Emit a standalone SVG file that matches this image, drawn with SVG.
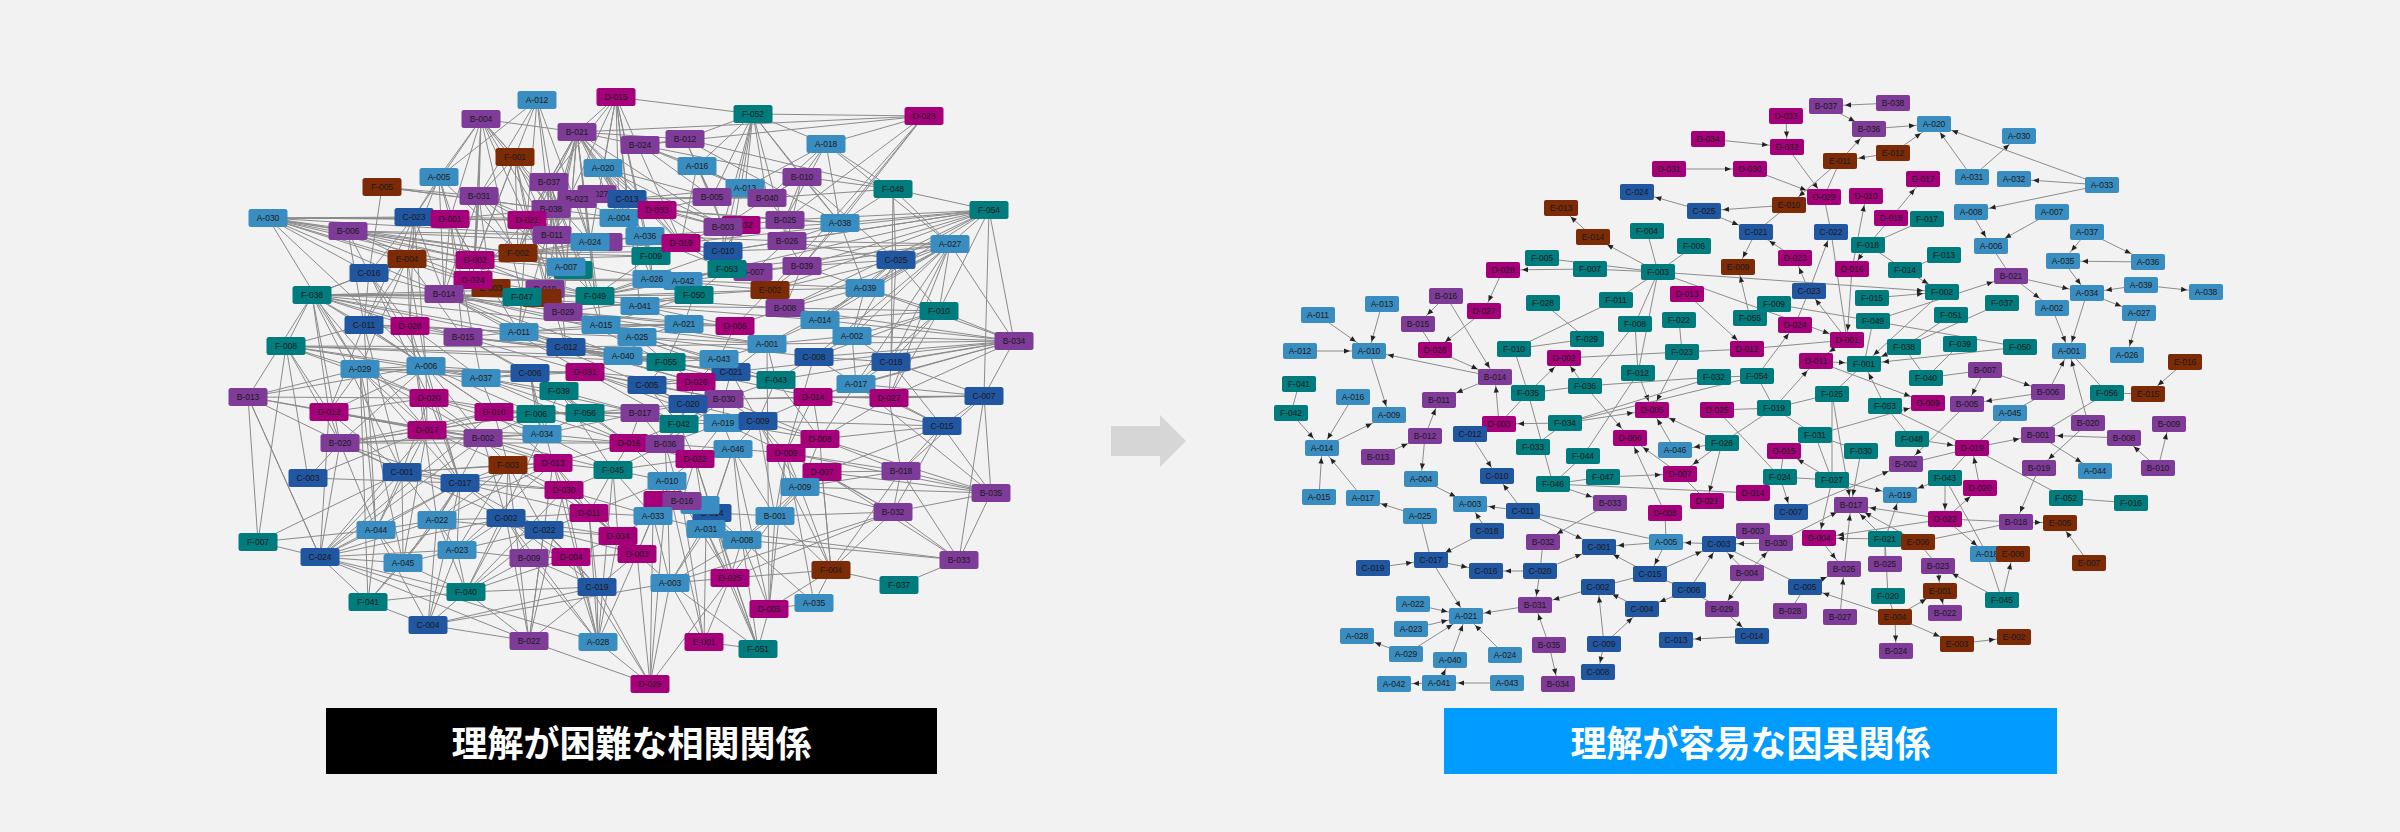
<svg xmlns="http://www.w3.org/2000/svg" xmlns:xlink="http://www.w3.org/1999/xlink" width="2400" height="832" viewBox="0 0 2400 832">
<style>
.A{fill:#3a8dc0}.B{fill:#7e3b97}.C{fill:#2156a1}.D{fill:#a5007a}.E{fill:#7c2b06}.F{fill:#007b7e}
text{fill:#1a1a1a;font-family:"Liberation Sans",Arial,sans-serif;font-size:8.5px;text-anchor:middle;dominant-baseline:central}
.le{fill:none;stroke:#8a8a8a;stroke-width:1}
.re path{fill:none;stroke:#8c8c8c;stroke-width:1}
.re .a{marker-end:url(#ma)}.re .b{marker-end:url(#mb)}.re .c{marker-end:url(#mc)}.re .d{marker-end:url(#md)}.re .e{marker-end:url(#me)}
.ban{fill:#fff;font-family:"Noto Sans CJK JP","Noto Sans CJK SC",sans-serif;font-size:36px;font-weight:700;text-anchor:middle;dominant-baseline:central}
</style>
<defs>
<rect id="lb" x="-19.5" y="-9" width="39" height="18" rx="2.5"/>
<rect id="rb" x="-17" y="-8" width="34" height="16" rx="2"/>
<marker id="ma" markerUnits="userSpaceOnUse" markerWidth="30" markerHeight="30" refX="19" refY="0" orient="auto" overflow="visible"><path d="M0 0L-6 -2.6L-6 2.6Z" fill="#222"/></marker>
<marker id="mb" markerUnits="userSpaceOnUse" markerWidth="30" markerHeight="30" refX="16" refY="0" orient="auto" overflow="visible"><path d="M0 0L-6 -2.6L-6 2.6Z" fill="#222"/></marker>
<marker id="mc" markerUnits="userSpaceOnUse" markerWidth="30" markerHeight="30" refX="13" refY="0" orient="auto" overflow="visible"><path d="M0 0L-6 -2.6L-6 2.6Z" fill="#222"/></marker>
<marker id="md" markerUnits="userSpaceOnUse" markerWidth="30" markerHeight="30" refX="10.5" refY="0" orient="auto" overflow="visible"><path d="M0 0L-6 -2.6L-6 2.6Z" fill="#222"/></marker>
<marker id="me" markerUnits="userSpaceOnUse" markerWidth="30" markerHeight="30" refX="9.5" refY="0" orient="auto" overflow="visible"><path d="M0 0L-6 -2.6L-6 2.6Z" fill="#222"/></marker>
</defs>
<rect x="0" y="0" width="2400" height="832" fill="#f2f2f2"/>

<g id="connectors-left" class="le">
<path d="M537 100L439 177M537 100L479 196M537 100L527 220M537 100L552 235M537 100L475 260M537 100L566 267M537 100L590 242"/>
<path d="M616 97L577 132M616 97L549 182M616 97L753 114M616 97L603 168M616 97L627 199M616 97L619 218M616 97L645 236M616 97L552 235M616 97L651 256M616 97L590 242M616 97L681 243M616 97L640 306"/>
<path d="M481 119L577 132M481 119L439 177M481 119L515 157M481 119L479 196M481 119L450 219M481 119L527 220M481 119L414 217M481 119L551 209M481 119L475 260M481 119L552 235M481 119L590 242M481 119L522 297M481 119L473 280"/>
<path d="M577 132L640 145M577 132L924 116M577 132L685 139M577 132L603 168M577 132L549 182M577 132L619 218M577 132L552 235M577 132L590 242M577 132L651 256M577 132L527 220M577 132L566 267M577 132L545 289M577 132L563 312M577 132L595 296M577 132L601 325M577 132L519 332M577 132L518 253M577 132L657 210M577 132L645 236M577 132L681 243M577 132L723 227"/>
<path d="M515 157L479 196M515 157L527 220M515 157L551 209M515 157L475 260M515 157L518 253M515 157L566 267M515 157L545 289"/>
<path d="M603 168L627 199M603 168L657 210M603 168L619 218M603 168L712 197M603 168L645 236M603 168L651 256M603 168L723 227M603 168L681 243M603 168L652 279"/>
<path d="M439 177L450 219M439 177L414 217M439 177L444 294M439 177L473 280M439 177L407 259M439 177L518 253"/>
<path d="M382 187L551 209M382 187L369 273M382 187L619 218M382 187L479 196"/>
<path d="M549 182L566 267M549 182L595 296M549 182L563 312M549 182L601 325M549 182L527 220M549 182L518 253M549 182L545 289M549 182L566 347"/>
<path d="M479 196L444 294M479 196L475 260M479 196L473 280M479 196L566 267M479 196L552 235M479 196L518 253M479 196L590 242M479 196L491 288"/>
<path d="M414 217L450 219M414 217L407 259M414 217L444 294M414 217L364 325M414 217L410 326M414 217L426 366M414 217L369 273"/>
<path d="M268 218L414 217M268 218L450 219M268 218L527 220M268 218L619 218M268 218L552 235M268 218L348 231M268 218L407 259M268 218L475 260M268 218L518 253M268 218L444 294M268 218L566 267M268 218L369 273M268 218L360 369M268 218L426 366M268 218L595 296M268 218L563 312"/>
<path d="M348 231L518 253M348 231L475 260M348 231L407 259M348 231L369 273M348 231L364 325M348 231L566 267M348 231L552 235M348 231L590 242M348 231L522 297"/>
<path d="M450 219L527 220M450 219L551 209M450 219L475 260M450 219L444 294M450 219L481 378M450 219L519 332M450 219L463 337"/>
<path d="M527 220L619 218M527 220L518 253M527 220L473 280M527 220L519 332M527 220L563 312M527 220L566 347"/>
<path d="M407 259L475 260M407 259L522 297M407 259L364 325M407 259L410 326M407 259L426 366M407 259L360 369M407 259L312 295M407 259L463 337"/>
<path d="M369 273L444 294M369 273L364 325M369 273L312 295M369 273L426 366M369 273L429 398M369 273L410 326"/>
<path d="M312 295L444 294M312 295L522 297M312 295L545 289M312 295L595 296M312 295L640 306M312 295L364 325M312 295L286 346M312 295L360 369M312 295L426 366M312 295L248 397M312 295L329 412M312 295L427 430M312 295L340 443M312 295L402 472M312 295L410 326M312 295L463 337M312 295L519 332M312 295L566 347M312 295L601 325"/>
<path d="M286 346L364 325M286 346L360 369M286 346L426 366M286 346L566 347M286 346L623 356M286 346L666 362M286 346L481 378M286 346L429 398M286 346L258 542M286 346L340 443M286 346L308 478M286 346L329 412"/>
<path d="M248 397L360 369M248 397L426 366M248 397L429 398M248 397L427 430M248 397L483 438M248 397L258 542M248 397L320 557M248 397L402 472"/>
<path d="M360 369L426 366M360 369L481 378M360 369L530 373M360 369L585 372M360 369L429 398M360 369L329 412M360 369L427 430M360 369L483 438M360 369L460 483M360 369L376 530M360 369L403 563M360 369L368 602"/>
<path d="M364 325L410 326M364 325L519 332M364 325L463 337M364 325L426 366M364 325L494 412M364 325L402 472M364 325L376 530M364 325L329 412"/>
<path d="M410 326L463 337M410 326L519 332M410 326L481 378M410 326L427 430M410 326L460 483M410 326L437 520"/>
<path d="M444 294L522 297M444 294L563 312M444 294L519 332M444 294L585 372M444 294L566 347M444 294L601 325M444 294L637 337M444 294L640 306M444 294L623 356"/>
<path d="M475 260L518 253M475 260L566 267M475 260L545 289M475 260L595 296M475 260L645 236M475 260L651 256"/>
<path d="M473 280L522 297M473 280L563 312M473 280L601 325M473 280L640 306M473 280L652 279M473 280L683 281"/>
<path d="M518 253L590 242M518 253L566 267M518 253L651 256M518 253L652 279M518 253L681 243M518 253L723 251"/>
<path d="M463 337L519 332M463 337L530 373M463 337L566 347M463 337L623 356M463 337L666 362M463 337L585 372M463 337L559 391"/>
<path d="M519 332L601 325M519 332L637 337M519 332L684 324M519 332L666 362M519 332L647 385M519 332L696 382"/>
<path d="M426 366L481 378M426 366L530 373M426 366L494 412M426 366L427 430M426 366L483 438M426 366L536 414M426 366L460 483"/>
<path d="M481 378L530 373M481 378L585 372M481 378L559 391M481 378L640 413M481 378L629 443M481 378L494 412M481 378L585 413"/>
<path d="M429 398L494 412M429 398L536 414M429 398L483 438M429 398L460 483M429 398L402 472M429 398L542 434"/>
<path d="M563 312L684 324M563 312L694 295M563 312L735 326M563 312L767 344M563 312L731 372M563 312L776 380M563 312L666 362"/>
<path d="M566 347L623 356M566 347L666 362M566 347L719 359M566 347L731 372M566 347L696 382M566 347L767 344M566 347L776 380"/>
<path d="M601 325L684 324M601 325L637 337M601 325L694 295M601 325L767 344M601 325L735 326"/>
<path d="M595 296L652 279M595 296L683 281M595 296L694 295M595 296L770 290M595 296L785 308M595 296L727 269M595 296L723 251"/>
<path d="M640 306L694 295M640 306L684 324M640 306L735 326M640 306L785 308M640 306L820 320"/>
<path d="M637 337L684 324M637 337L666 362M637 337L719 359M637 337L767 344M637 337L814 357"/>
<path d="M623 356L666 362M623 356L719 359M623 356L731 372M623 356L776 380M623 356L813 397"/>
<path d="M585 372L647 385M585 372L696 382M585 372L724 399M585 372L688 404M585 372L679 424M585 372L723 423"/>
<path d="M559 391L585 413M559 391L640 413M559 391L629 443M559 391L542 434M559 391L613 470"/>
<path d="M530 373L559 391M530 373L585 372M530 373L536 414M530 373L585 413M530 373L542 434M530 373L553 463"/>
<path d="M652 279L683 281M652 279L694 295M652 279L770 290M652 279L865 288M652 279L802 266"/>
<path d="M645 236L681 243M645 236L723 251M645 236L727 269M645 236L787 241M645 236L840 223M645 236L651 256M645 236L652 279"/>
<path d="M627 199L657 210M627 199L712 197M627 199L723 227M627 199L741 225M627 199L767 198M627 199L745 188M627 199L619 218M627 199L577 199"/>
<path d="M657 210L723 227M657 210L723 251M657 210L785 220M657 210L840 223"/>
<path d="M640 145L685 139M640 145L697 166M640 145L712 197M640 145L745 188M640 145L802 177M640 145L924 116"/>
<path d="M753 114L924 116M753 114L826 144M753 114L802 177M753 114L697 166M753 114L712 197M753 114L745 188M753 114L767 198M753 114L723 227M753 114L723 251M753 114L727 269M753 114L685 139M753 114L840 223M753 114L787 241"/>
<path d="M924 116L826 144M924 116L785 220M924 116L840 223M924 116L770 290M924 116L802 266"/>
<path d="M826 144L802 177M826 144L767 198M826 144L745 188M826 144L785 220M826 144L840 223M826 144L893 189M826 144L950 244"/>
<path d="M685 139L697 166M685 139L893 189M685 139L712 197M685 139L840 223"/>
<path d="M697 166L712 197M697 166L723 227M697 166L745 188M697 166L681 243"/>
<path d="M802 177L893 189M802 177L767 198M802 177L785 220M802 177L840 223M802 177L787 241M802 177L896 260"/>
<path d="M893 189L989 210M893 189L896 260M893 189L891 362M893 189L950 244M893 189L840 223M893 189L767 198"/>
<path d="M989 210L950 244M989 210L840 223M989 210L785 220M989 210L787 241M989 210L896 260M989 210L802 266M989 210L939 311M989 210L1014 341M989 210L984 396M989 210L865 288M989 210L785 308M989 210L723 251M989 210L727 269M989 210L681 243M989 210L770 290"/>
<path d="M950 244L896 260M950 244L865 288M950 244L939 311M950 244L1014 341M950 244L891 362M950 244L785 308M950 244L820 320M950 244L852 336M950 244L814 357M950 244L856 384M950 244L889 398M950 244L767 344M950 244L787 241M950 244L802 266M950 244L723 251M950 244L727 269"/>
<path d="M896 260L802 266M896 260L865 288M896 260L787 241M896 260L770 290M896 260L820 320M896 260L852 336M896 260L891 362M896 260L939 311"/>
<path d="M1014 341L939 311M1014 341L852 336M1014 341L891 362M1014 341L984 396M1014 341L820 320M1014 341L865 288M1014 341L767 344M1014 341L814 357M1014 341L785 308M1014 341L889 398M1014 341L813 397M1014 341L856 384M1014 341L776 380M1014 341L731 372"/>
<path d="M939 311L865 288M939 311L820 320M939 311L852 336M939 311L891 362M939 311L856 384M939 311L889 398M939 311L785 308M939 311L814 357"/>
<path d="M984 396L891 362M984 396L889 398M984 396L856 384M984 396L813 397M984 396L991 493M984 396L901 471M984 396L942 426M984 396L959 560M984 396L724 399"/>
<path d="M889 398L813 397M889 398L856 384M889 398L891 362M889 398L942 426M889 398L901 471M889 398L820 439"/>
<path d="M942 426L901 471M942 426L820 439M942 426L893 512M942 426L822 472"/>
<path d="M991 493L901 471M991 493L893 512M991 493L800 487M991 493L822 472M991 493L820 439M991 493L942 426M991 493L959 560M991 493L786 453M991 493L856 384"/>
<path d="M901 471L893 512M901 471L959 560M901 471L822 472M901 471L800 487M901 471L831 570"/>
<path d="M893 512L959 560M893 512L831 570M893 512L800 487M893 512L775 516M893 512L730 578M893 512L670 583"/>
<path d="M959 560L899 585M959 560L742 540M959 560L822 472M959 560L706 529M899 585L831 570"/>
<path d="M831 570L814 603M831 570L769 609M831 570L730 578M831 570L800 487M831 570L822 472M831 570L775 516M831 570L758 421"/>
<path d="M814 603L769 609M814 603L742 540M814 603L786 453"/>
<path d="M769 609L758 649M769 609L742 540M769 609L733 449M769 609L786 453M769 609L767 344"/>
<path d="M758 649L704 642M758 649L730 578M758 649L742 540M758 649L670 583M758 649L706 529M758 649L695 459M758 649L712 513"/>
<path d="M704 642L670 583M704 642L667 481M704 642L682 501M704 642L730 578"/>
<path d="M650 684L670 583M650 684L637 554M650 684L598 642M650 684L653 516M650 684L597 587M650 684L571 557M650 684L529 641M650 684L730 578M650 684L667 481"/>
<path d="M598 642L597 587M598 642L571 557M598 642L589 513M598 642L618 536M598 642L564 490M598 642L529 558M598 642L506 518M598 642L553 463M598 642L613 470M598 642L320 557M598 642L637 554"/>
<path d="M529 641L506 518M529 641L544 530M529 641L553 463M529 641L508 465M529 641L564 490M529 641L466 592M529 641L597 587"/>
<path d="M428 625L466 592M428 625L457 550M428 625L437 520M428 625L460 483M428 625L376 530M428 625L368 602M428 625L529 641M428 625L597 587M428 625L670 583"/>
<path d="M320 557L376 530M320 557L403 563M320 557L402 472M320 557L460 483M320 557L437 520M320 557L340 443M320 557L427 430M320 557L368 602M320 557L466 592M320 557L529 641M320 557L329 412M320 557L248 397M320 557L258 542M320 557L457 550M320 557L494 412M320 557L506 518M320 557L483 438"/>
<path d="M368 602L376 530M368 602L403 563M368 602L466 592M368 602L437 520"/>
<path d="M466 592L457 550M466 592L403 563M466 592L506 518M466 592L529 558M466 592L597 587M466 592L571 557M466 592L544 530M466 592L437 520M466 592L564 490M466 592L542 434"/>
<path d="M403 563L457 550M403 563L402 472M403 563L460 483M403 563L376 530M403 563L437 520M403 563L427 430"/>
<path d="M376 530L402 472M376 530L437 520M376 530L460 483M376 530L427 430M376 530L340 443"/>
<path d="M457 550L506 518M457 550L529 558M457 550L553 463M457 550L544 530M457 550L508 465M457 550L437 520M457 550L460 483"/>
<path d="M437 520L460 483M437 520L506 518M437 520L544 530M437 520L508 465M437 520L553 463M437 520L483 438"/>
<path d="M308 478L340 443M308 478L427 430M308 478L460 483M258 542L402 472M258 542L376 530"/>
<path d="M340 443L427 430M340 443L483 438M340 443L494 412M340 443L402 472M340 443L460 483M340 443L542 434M340 443L629 443M340 443L536 414M340 443L329 412M340 443L426 366"/>
<path d="M329 412L427 430M329 412L429 398M329 412L402 472M329 412L483 438M329 412L426 366"/>
<path d="M427 430L483 438M427 430L494 412M427 430L536 414M427 430L542 434M427 430L460 483M427 430L508 465M427 430L553 463"/>
<path d="M483 438L508 465M483 438L553 463M483 438L542 434M483 438L536 414M483 438L629 443M483 438L613 470M483 438L506 518"/>
<path d="M402 472L460 483M402 472L508 465M402 472L437 520M402 472L564 490M402 472L506 518M402 472L553 463"/>
<path d="M460 483L508 465M460 483L506 518M460 483L553 463M460 483L564 490M460 483L544 530M460 483L589 513"/>
<path d="M494 412L536 414M494 412L542 434M494 412L553 463M494 412L585 413M494 412L640 413M494 412L508 465"/>
<path d="M508 465L553 463M508 465L564 490M508 465L544 530M508 465L589 513M508 465L506 518"/>
<path d="M506 518L544 530M506 518L571 557M506 518L529 558M506 518L618 536M506 518L589 513M506 518L597 587"/>
<path d="M544 530L571 557M544 530L637 554M544 530L618 536M544 530L589 513M544 530L597 587"/>
<path d="M553 463L613 470M553 463L564 490M553 463L629 443M553 463L589 513M553 463L618 536"/>
<path d="M564 490L589 513M564 490L613 470M564 490L618 536M564 490L637 554M564 490L653 516"/>
<path d="M589 513L618 536M589 513L637 554M589 513L613 470M589 513L653 516M589 513L597 587M589 513L667 481"/>
<path d="M529 558L571 557M529 558L597 587M529 558L637 554M571 557L637 554M571 557L597 587M571 557L618 536"/>
<path d="M613 470L629 443M613 470L618 536M613 470L667 481M613 470L665 444M613 470L695 459M613 470L653 516"/>
<path d="M536 414L585 413M536 414L542 434M536 414L640 413M536 414L629 443"/>
<path d="M585 413L640 413M585 413L629 443M585 413L542 434M585 413L679 424M585 413L688 404"/>
<path d="M542 434L629 443M542 434L613 470M542 434L640 413"/>
<path d="M640 413L629 443M640 413L688 404M640 413L679 424M640 413L665 444M640 413L723 423"/>
<path d="M629 443L665 444M629 443L695 459M629 443L667 481M629 443L679 424"/>
<path d="M647 385L688 404M647 385L724 399M647 385L696 382M647 385L723 423M647 385L679 424"/>
<path d="M665 444L695 459M665 444L733 449M665 444L667 481M665 444L682 501M665 444L723 423"/>
<path d="M695 459L733 449M695 459L667 481M695 459L682 501M695 459L712 513M695 459L706 529"/>
<path d="M723 423L758 421M723 423L733 449M723 423L786 453M723 423L820 439M723 423L695 459"/>
<path d="M758 421L733 449M758 421L786 453M758 421L820 439M758 421L942 426M758 421L800 487M758 421L775 516"/>
<path d="M733 449L786 453M733 449L712 513M733 449L775 516M733 449L742 540M733 449L706 529"/>
<path d="M820 439L786 453M820 439L822 472M820 439L901 471M820 439L800 487"/>
<path d="M786 453L822 472M786 453L800 487M786 453L775 516M786 453L901 471M786 453L893 512"/>
<path d="M822 472L800 487M822 472L893 512M822 472L775 516M822 472L831 570"/>
<path d="M800 487L775 516M800 487L742 540"/>
<path d="M667 481L682 501M667 481L653 516M667 481L712 513M667 481L706 529M667 481L670 583M667 481L637 554"/>
<path d="M682 501L712 513M682 501L653 516M682 501L706 529M682 501L742 540M682 501L730 578"/>
<path d="M653 516L706 529M653 516L670 583M653 516L637 554"/>
<path d="M712 513L706 529M712 513L742 540M712 513L775 516M712 513L730 578M712 513L670 583"/>
<path d="M775 516L742 540M775 516L730 578M775 516L769 609"/>
<path d="M706 529L742 540M706 529L670 583M706 529L730 578M706 529L704 642"/>
<path d="M742 540L730 578M742 540L670 583M670 583L730 578M637 554L670 583M637 554L597 587M618 536L637 554M618 536L653 516"/>
<path d="M724 399L679 424M724 399L723 423M724 399L758 421M724 399L820 439M724 399L813 397M724 399L665 444M724 399L688 404"/>
<path d="M688 404L679 424M688 404L723 423M688 404L665 444M688 404L758 421M679 424L723 423M679 424L665 444M679 424L695 459"/>
<path d="M813 397L889 398M813 397L758 421M813 397L820 439M813 397L786 453M813 397L942 426M813 397L856 384"/>
<path d="M856 384L891 362M856 384L814 357M856 384L820 439M856 384L942 426"/>
<path d="M814 357L891 362M814 357L852 336M814 357L776 380M814 357L786 453"/>
<path d="M891 362L942 426M776 380L813 397M776 380L767 344M776 380L731 372M776 380L758 421M776 380L724 399M776 380L820 439"/>
<path d="M731 372L696 382M731 372L719 359M731 372L767 344M731 372L647 385M731 372L724 399M731 372L758 421"/>
<path d="M696 382L719 359M696 382L647 385M696 382L688 404M696 382L724 399"/>
<path d="M719 359L767 344M719 359L666 362M719 359L735 326M666 362L684 324M666 362L647 385M666 362L696 382"/>
<path d="M767 344L735 326M767 344L820 320M767 344L852 336M852 336L820 320M852 336L865 288M852 336L891 362M852 336L856 384"/>
<path d="M820 320L785 308M820 320L865 288M735 326L684 324M735 326L785 308M735 326L770 290M684 324L694 295"/>
<path d="M785 308L770 290M785 308L865 288M785 308L802 266M770 290L802 266M770 290L753 272M770 290L727 269M770 290L865 288"/>
<path d="M865 288L802 266M865 288L840 223M694 295L683 281M694 295L770 290M694 295L727 269M683 281L727 269M683 281L753 272"/>
<path d="M802 266L787 241M802 266L753 272M802 266L840 223M787 241L785 220M787 241L840 223M787 241L753 272M787 241L723 251"/>
<path d="M753 272L727 269M753 272L723 251M727 269L723 251M727 269L681 243M723 251L681 243M723 251L723 227M723 251L741 225"/>
<path d="M681 243L723 227M681 243L657 210M681 243L651 256M723 227L767 198M723 227L712 197M723 227L741 225"/>
<path d="M785 220L767 198M785 220L840 223M785 220L723 227M767 198L745 188M767 198L712 197M767 198L802 177M745 188L712 197M745 188L697 166M712 197L697 166M712 197L657 210"/>
<path d="M651 256L652 279M651 256L645 236M651 256L595 296M619 218L645 236M619 218L657 210"/>
<path d="M590 242L566 267M590 242L645 236M590 242L552 235M590 242L595 296M566 267L545 289M566 267L595 296M566 267L522 297"/>
<path d="M552 235L566 267M552 235L551 209M552 235L518 253M577 199L551 209M577 199L619 218M577 199L590 242M577 199L552 235"/>
<path d="M545 289L563 312M545 289L595 296M522 297L563 312M522 297L519 332M522 297L595 296M491 288L473 280M491 288L522 297M491 288L563 312"/>
</g>

<g id="connectors-right" class="re">
<path class="a" d="M1669 169L1750 169"/><path class="a" d="M1708 139L1787 147"/><path class="a" d="M1704 211L1637 192"/><path class="a" d="M1789 205L1704 211"/><path class="a" d="M1704 211L1756 232"/>
<path class="c" d="M1593 237L1561 208"/><path class="b" d="M1658 272L1593 237"/><path d="M1647 231L1658 272"/><path d="M1694 246L1658 272"/><path d="M1542 258L1658 272"/><path d="M1590 269L1658 272"/>
<path class="a" d="M1590 269L1503 270"/><path class="a" d="M1658 272L1942 292"/><path class="a" d="M1658 272L1847 340"/><path d="M1658 272L1616 300"/><path d="M1658 272L1635 324"/><path d="M1658 272L1638 373"/>
<path class="c" d="M1687 294L1747 349"/><path class="e" d="M1750 318L1738 267"/><path class="d" d="M1756 232L1738 267"/><path class="d" d="M1503 270L1484 311"/><path class="c" d="M1484 311L1435 350"/>
<path class="c" d="M1446 296L1418 324"/><path class="d" d="M1446 296L1495 377"/><path class="a" d="M1435 350L1495 377"/><path d="M1418 324L1435 350"/><path class="e" d="M1382 304L1369 351"/>
<path class="b" d="M1318 315L1369 351"/><path class="a" d="M1300 351L1369 351"/><path class="a" d="M1495 377L1369 351"/><path class="e" d="M1369 351L1389 415"/><path class="a" d="M1495 377L1439 400"/><path class="e" d="M1499 424L1495 377"/>
<path d="M1543 303L1587 339"/><path d="M1616 300L1514 349"/><path d="M1587 339L1514 349"/><path d="M1514 349L1528 393"/><path class="c" d="M1528 393L1564 358"/><path class="d" d="M1585 386L1564 358"/>
<path d="M1528 393L1585 386"/><path d="M1635 324L1585 386"/><path d="M1635 324L1638 373"/><path class="e" d="M1638 373L1652 410"/><path class="d" d="M1682 352L1652 410"/><path d="M1679 320L1682 352"/>
<path d="M1564 358L1682 352"/><path d="M1682 352L1747 349"/><path d="M1585 386L1714 377"/><path d="M1714 377L1757 376"/><path d="M1714 377L1565 423"/><path class="c" d="M1585 386L1630 438"/><path d="M1299 384L1291 413"/>
<path class="a" d="M1893 103L1826 106"/><path class="e" d="M1786 116L1787 147"/><path class="b" d="M1826 106L1869 129"/><path class="a" d="M1869 129L1934 124"/><path class="b" d="M1893 153L1934 124"/><path class="a" d="M1893 153L1840 161"/>
<path class="c" d="M1840 161L1869 129"/><path class="d" d="M1972 177L1934 124"/><path class="c" d="M1972 177L2019 136"/><path class="a" d="M2102 185L1934 124"/><path class="a" d="M2102 185L2014 179"/><path class="a" d="M2102 185L1971 212"/>
<path class="d" d="M1787 147L1824 197"/><path class="a" d="M1750 169L1824 197"/><path class="c" d="M1840 161L1789 205"/><path d="M1840 161L1824 197"/><path d="M1789 205L1756 232"/><path d="M1824 197L1831 232"/>
<path class="c" d="M1891 218L1923 179"/><path class="e" d="M1852 269L1866 196"/><path d="M1891 218L1868 245"/><path d="M1927 219L1868 245"/><path class="d" d="M1868 245L1852 269"/><path d="M1868 245L1905 270"/><path d="M1944 255L1905 270"/>
<path class="b" d="M1905 270L1942 292"/><path class="a" d="M1872 298L1942 292"/><path class="b" d="M1795 258L1756 232"/><path class="d" d="M1809 291L1795 258"/><path class="e" d="M1809 291L1831 232"/><path d="M1831 232L1847 340"/>
<path class="d" d="M1847 340L1809 291"/><path class="e" d="M1852 269L1847 340"/><path d="M1795 325L1809 291"/><path class="d" d="M1757 376L1795 325"/><path class="b" d="M1847 340L1816 361"/><path d="M1747 349L1847 340"/>
<path class="a" d="M1816 361L1864 364"/><path d="M1774 304L1873 321"/><path class="a" d="M1873 321L2011 276"/><path d="M1873 321L1864 364"/><path class="a" d="M1904 347L1864 364"/><path class="c" d="M1942 292L1864 364"/>
<path d="M1951 315L1904 347"/><path d="M2002 303L1904 347"/><path class="a" d="M2020 347L1864 364"/><path d="M1960 344L1926 378"/><path d="M1904 347L1926 378"/><path d="M1926 378L1985 370"/><path d="M1873 321L2020 347"/>
<path class="a" d="M2011 276L2087 293"/><path class="b" d="M2011 276L2052 308"/><path d="M1991 246L2011 276"/><path class="d" d="M1971 212L1991 246"/><path class="b" d="M2052 212L1991 246"/><path class="c" d="M2087 232L2063 261"/>
<path class="a" d="M2087 232L2148 262"/><path class="a" d="M2148 262L2063 261"/><path class="d" d="M2063 261L2087 293"/><path class="a" d="M2141 285L2087 293"/><path class="a" d="M2141 285L2206 292"/><path class="a" d="M2087 293L2139 313"/>
<path class="e" d="M2139 313L2127 355"/><path class="e" d="M2087 293L2069 351"/><path class="e" d="M2052 308L2069 351"/><path d="M2107 393L2069 351"/><path class="d" d="M2048 392L2069 351"/><path class="e" d="M2088 423L2069 351"/>
<path class="c" d="M2185 362L2148 394"/><path d="M2107 393L2148 394"/><path class="a" d="M1985 370L2048 392"/><path class="d" d="M1985 370L1967 404"/><path class="a" d="M2048 392L1967 404"/><path class="a" d="M1816 361L1928 403"/>
<path d="M1832 394L1864 364"/><path class="c" d="M1774 408L1816 361"/><path d="M1757 376L1774 408"/><path class="d" d="M1885 406L1864 364"/>
<path class="d" d="M1353 397L1322 448"/><path class="c" d="M1291 413L1322 448"/><path class="a" d="M1322 448L1389 415"/><path class="e" d="M1319 497L1322 448"/><path class="c" d="M1363 498L1322 448"/><path class="a" d="M1378 457L1425 436"/>
<path class="e" d="M1425 436L1439 400"/><path class="e" d="M1425 436L1421 479"/><path class="b" d="M1421 479L1470 504"/><path class="d" d="M1470 434L1497 476"/><path class="d" d="M1523 511L1497 476"/><path class="a" d="M1523 511L1470 504"/>
<path class="d" d="M1487 531L1470 504"/><path class="a" d="M1420 516L1363 498"/><path d="M1420 516L1431 560"/><path class="b" d="M1487 531L1431 560"/><path class="a" d="M1373 568L1431 560"/><path class="a" d="M1431 560L1486 571"/>
<path class="a" d="M1540 571L1486 571"/><path class="d" d="M1431 560L1466 616"/><path class="a" d="M1413 604L1466 616"/><path class="a" d="M1411 629L1466 616"/><path class="b" d="M1406 654L1466 616"/><path class="e" d="M1450 660L1466 616"/>
<path class="c" d="M1505 655L1466 616"/><path class="a" d="M1406 654L1357 636"/><path class="d" d="M1439 683L1450 660"/><path class="a" d="M1439 683L1394 684"/><path class="a" d="M1507 683L1439 683"/><path class="a" d="M1535 605L1466 616"/>
<path d="M1543 542L1540 571"/><path class="e" d="M1540 571L1535 605"/><path class="a" d="M1540 571L1599 547"/><path class="e" d="M1549 645L1535 605"/><path class="e" d="M1549 645L1558 684"/><path class="a" d="M1598 587L1535 605"/>
<path class="e" d="M1604 644L1598 587"/><path class="c" d="M1604 644L1642 609"/><path class="e" d="M1604 644L1598 672"/><path class="b" d="M1642 609L1598 587"/><path class="a" d="M1689 590L1642 609"/><path d="M1650 574L1598 587"/>
<path class="b" d="M1650 574L1599 547"/><path class="a" d="M1666 542L1599 547"/><path class="d" d="M1666 542L1650 574"/><path class="a" d="M1719 544L1666 542"/><path class="a" d="M1523 511L1599 547"/><path d="M1523 511L1666 542"/>
<path class="b" d="M1610 503L1543 542"/><path class="a" d="M1553 484L1610 503"/><path d="M1583 456L1553 484"/><path d="M1553 484L1603 477"/><path class="a" d="M1603 477L1680 474"/><path d="M1553 484L1753 493"/>
<path class="b" d="M1680 474L1630 438"/><path class="d" d="M1665 513L1630 438"/><path d="M1665 513L1666 542"/><path class="d" d="M1675 450L1652 410"/><path class="a" d="M1722 443L1652 410"/><path class="a" d="M1722 443L1675 450"/>
<path class="b" d="M1722 443L1680 474"/><path class="e" d="M1722 443L1707 501"/><path d="M1680 474L1707 501"/><path class="a" d="M1565 423L1499 424"/><path class="a" d="M1565 423L1652 410"/><path d="M1528 393L1499 424"/>
<path d="M1528 393L1553 484"/><path d="M1533 447L1565 423"/><path d="M1583 456L1638 373"/><path d="M1565 423L1757 376"/><path class="d" d="M1689 590L1719 544"/><path d="M1689 590L1650 574"/><path d="M1689 590L1722 609"/>
<path class="c" d="M1722 609L1752 636"/><path class="a" d="M1752 636L1676 640"/><path class="d" d="M1747 573L1722 609"/><path class="a" d="M1650 574L1719 544"/><path class="a" d="M1753 531L1719 544"/><path class="a" d="M1776 543L1719 544"/><path class="c" d="M1747 573L1719 544"/>
<path d="M1832 394L1774 408"/><path d="M1832 394L1832 480"/><path class="e" d="M1832 394L1851 505"/><path d="M1885 406L1912 439"/><path class="c" d="M1967 404L1906 464"/><path d="M2048 392L2010 413"/><path d="M2010 413L1972 448"/>
<path d="M2107 393L2038 435"/><path class="c" d="M2088 423L2039 468"/><path class="a" d="M2124 438L2038 435"/><path class="b" d="M2038 435L2095 471"/><path class="a" d="M1972 448L2038 435"/><path class="a" d="M1912 439L1972 448"/><path d="M1885 406L1972 448"/>
<path class="a" d="M1815 435L1928 403"/><path d="M1815 435L1861 451"/><path d="M1815 435L1832 480"/><path class="b" d="M1832 480L1784 451"/><path d="M1774 408L1815 435"/><path d="M1780 477L1784 451"/><path d="M1780 477L1832 480"/>
<path class="e" d="M1780 477L1791 512"/><path class="b" d="M1780 477L1753 493"/><path class="e" d="M1861 451L1851 505"/><path class="a" d="M1832 480L1900 495"/><path class="e" d="M1832 480L1819 538"/><path class="a" d="M1791 512L1906 464"/>
<path d="M1972 448L1906 464"/><path d="M1972 448L1945 478"/><path class="a" d="M1945 478L1900 495"/><path class="e" d="M1945 478L1945 519"/><path class="e" d="M1980 488L1972 448"/><path class="c" d="M1945 519L1980 488"/><path d="M1972 448L2066 498"/>
<path d="M2066 498L2131 503"/><path class="d" d="M2039 468L2016 522"/><path class="a" d="M2016 522L2060 523"/><path class="d" d="M2089 563L2060 523"/><path class="c" d="M2158 468L2124 438"/><path class="e" d="M2158 468L2169 424"/>
<path class="a" d="M1945 519L1851 505"/><path class="e" d="M1885 539L1900 495"/><path class="c" d="M1885 539L1851 505"/><path d="M2016 522L1945 519"/><path class="a" d="M1945 519L1819 538"/><path d="M2016 522L1918 542"/><path class="a" d="M1885 539L1819 538"/>
<path class="b" d="M1918 542L1851 505"/><path class="c" d="M1945 519L1987 554"/><path d="M1945 478L1987 554"/><path class="b" d="M1776 543L1851 505"/><path class="c" d="M1819 538L1844 569"/><path class="e" d="M1844 569L1851 505"/><path class="e" d="M1840 617L1844 569"/>
<path class="a" d="M1805 587L1844 569"/><path d="M1790 611L1805 587"/><path class="a" d="M1895 617L1805 587"/><path class="b" d="M1895 617L1940 591"/><path class="e" d="M1895 617L1896 651"/><path class="a" d="M1895 617L1957 644"/><path class="a" d="M1957 644L2014 637"/>
<path d="M1888 596L1895 617"/><path d="M1885 539L1888 596"/><path d="M1885 539L1885 564"/><path d="M1918 542L1938 566"/><path class="e" d="M1938 566L1940 591"/><path class="e" d="M1940 591L1945 613"/><path class="b" d="M2002 600L1938 566"/>
<path class="e" d="M2002 600L2013 554"/><path d="M2002 600L1987 554"/><path d="M1776 543L1753 531"/><path class="c" d="M1747 573L1776 543"/><path d="M1805 587L1719 544"/><path d="M1717 410L1780 477"/><path d="M1717 410L1774 408"/><path d="M1722 443L1774 408"/>
</g>

<g id="nodes-left">
<g id="l-B-027" class="B" transform="translate(597 194)"><use href="#lb"/><text>B-027</text></g>
<g id="l-A-012" class="A" transform="translate(537 100)"><use href="#lb"/><text>A-012</text></g>
<g id="l-D-015" class="D" transform="translate(616 97)"><use href="#lb"/><text>D-015</text></g>
<g id="l-B-004" class="B" transform="translate(481 119)"><use href="#lb"/><text>B-004</text></g>
<g id="l-B-021" class="B" transform="translate(577 132)"><use href="#lb"/><text>B-021</text></g>
<g id="l-B-024" class="B" transform="translate(640 145)"><use href="#lb"/><text>B-024</text></g>
<g id="l-F-001" class="E" transform="translate(515 157)"><use href="#lb"/><text>F-001</text></g>
<g id="l-A-020" class="A" transform="translate(603 168)"><use href="#lb"/><text>A-020</text></g>
<g id="l-A-005" class="A" transform="translate(439 177)"><use href="#lb"/><text>A-005</text></g>
<g id="l-F-005" class="E" transform="translate(382 187)"><use href="#lb"/><text>F-005</text></g>
<g id="l-B-037" class="B" transform="translate(549 182)"><use href="#lb"/><text>B-037</text></g>
<g id="l-B-031" class="B" transform="translate(479 196)"><use href="#lb"/><text>B-031</text></g>
<g id="l-B-023" class="B" transform="translate(577 199)"><use href="#lb"/><text>B-023</text></g>
<g id="l-C-013" class="C" transform="translate(627 199)"><use href="#lb"/><text>C-013</text></g>
<g id="l-A-030" class="A" transform="translate(268 218)"><use href="#lb"/><text>A-030</text></g>
<g id="l-C-023" class="C" transform="translate(414 217)"><use href="#lb"/><text>C-023</text></g>
<g id="l-D-001" class="D" transform="translate(450 219)"><use href="#lb"/><text>D-001</text></g>
<g id="l-B-038" class="B" transform="translate(551 209)"><use href="#lb"/><text>B-038</text></g>
<g id="l-D-021" class="D" transform="translate(527 220)"><use href="#lb"/><text>D-021</text></g>
<g id="l-A-004" class="A" transform="translate(619 218)"><use href="#lb"/><text>A-004</text></g>
<g id="l-D-033" class="D" transform="translate(657 210)"><use href="#lb"/><text>D-033</text></g>
<g id="l-B-006" class="B" transform="translate(348 231)"><use href="#lb"/><text>B-006</text></g>
<g id="l-B-011" class="B" transform="translate(552 235)"><use href="#lb"/><text>B-011</text></g>
<g id="l-B-hidden" class="B" transform="translate(603 242)"><use href="#lb"/></g>
<g id="l-A-024" class="A" transform="translate(590 242)"><use href="#lb"/><text>A-024</text></g>
<g id="l-A-036" class="A" transform="translate(645 236)"><use href="#lb"/><text>A-036</text></g>
<g id="l-E-004" class="E" transform="translate(407 259)"><use href="#lb"/><text>E-004</text></g>
<g id="l-D-002" class="D" transform="translate(475 260)"><use href="#lb"/><text>D-002</text></g>
<g id="l-F-002" class="E" transform="translate(518 253)"><use href="#lb"/><text>F-002</text></g>
<g id="l-F-009" class="F" transform="translate(651 256)"><use href="#lb"/><text>F-009</text></g>
<g id="l-C-016" class="C" transform="translate(369 273)"><use href="#lb"/><text>C-016</text></g>
<g id="l-F-hidden" class="F" transform="translate(573 270)"><use href="#lb"/></g>
<g id="l-A-007" class="A" transform="translate(566 267)"><use href="#lb"/><text>A-007</text></g>
<g id="l-E-003" class="E" transform="translate(491 288)"><use href="#lb"/><text>E-003</text></g>
<g id="l-D-024" class="D" transform="translate(473 280)"><use href="#lb"/><text>D-024</text></g>
<g id="l-B-019" class="B" transform="translate(545 289)"><use href="#lb"/><text>B-019</text></g>
<g id="l-E-hidden" class="E" transform="translate(542 298)"><use href="#lb"/></g>
<g id="l-F-047" class="F" transform="translate(522 297)"><use href="#lb"/><text>F-047</text></g>
<g id="l-B-014" class="B" transform="translate(444 294)"><use href="#lb"/><text>B-014</text></g>
<g id="l-F-038" class="F" transform="translate(312 295)"><use href="#lb"/><text>F-038</text></g>
<g id="l-F-049" class="F" transform="translate(595 296)"><use href="#lb"/><text>F-049</text></g>
<g id="l-A-041" class="A" transform="translate(640 306)"><use href="#lb"/><text>A-041</text></g>
<g id="l-B-029" class="B" transform="translate(563 312)"><use href="#lb"/><text>B-029</text></g>
<g id="l-C-011" class="C" transform="translate(364 325)"><use href="#lb"/><text>C-011</text></g>
<g id="l-D-028" class="D" transform="translate(410 326)"><use href="#lb"/><text>D-028</text></g>
<g id="l-B-015" class="B" transform="translate(463 337)"><use href="#lb"/><text>B-015</text></g>
<g id="l-A-011" class="A" transform="translate(519 332)"><use href="#lb"/><text>A-011</text></g>
<g id="l-A-015" class="A" transform="translate(601 325)"><use href="#lb"/><text>A-015</text></g>
<g id="l-A-025" class="A" transform="translate(637 337)"><use href="#lb"/><text>A-025</text></g>
<g id="l-F-008" class="F" transform="translate(286 346)"><use href="#lb"/><text>F-008</text></g>
<g id="l-C-012" class="C" transform="translate(566 347)"><use href="#lb"/><text>C-012</text></g>
<g id="l-A-040" class="A" transform="translate(623 356)"><use href="#lb"/><text>A-040</text></g>
<g id="l-A-029" class="A" transform="translate(360 369)"><use href="#lb"/><text>A-029</text></g>
<g id="l-A-006" class="A" transform="translate(426 366)"><use href="#lb"/><text>A-006</text></g>
<g id="l-A-037" class="A" transform="translate(481 378)"><use href="#lb"/><text>A-037</text></g>
<g id="l-C-006" class="C" transform="translate(530 373)"><use href="#lb"/><text>C-006</text></g>
<g id="l-D-031" class="D" transform="translate(585 372)"><use href="#lb"/><text>D-031</text></g>
<g id="l-F-039" class="F" transform="translate(559 391)"><use href="#lb"/><text>F-039</text></g>
<g id="l-B-013" class="B" transform="translate(248 397)"><use href="#lb"/><text>B-013</text></g>
<g id="l-D-020" class="D" transform="translate(429 398)"><use href="#lb"/><text>D-020</text></g>
<g id="l-F-052" class="F" transform="translate(753 114)"><use href="#lb"/><text>F-052</text></g>
<g id="l-D-023" class="D" transform="translate(924 116)"><use href="#lb"/><text>D-023</text></g>
<g id="l-B-012" class="B" transform="translate(685 139)"><use href="#lb"/><text>B-012</text></g>
<g id="l-A-018" class="A" transform="translate(826 144)"><use href="#lb"/><text>A-018</text></g>
<g id="l-A-016" class="A" transform="translate(697 166)"><use href="#lb"/><text>A-016</text></g>
<g id="l-B-010" class="B" transform="translate(802 177)"><use href="#lb"/><text>B-010</text></g>
<g id="l-F-048" class="F" transform="translate(893 189)"><use href="#lb"/><text>F-048</text></g>
<g id="l-A-013" class="A" transform="translate(745 188)"><use href="#lb"/><text>A-013</text></g>
<g id="l-B-005" class="B" transform="translate(712 197)"><use href="#lb"/><text>B-005</text></g>
<g id="l-B-040" class="B" transform="translate(767 198)"><use href="#lb"/><text>B-040</text></g>
<g id="l-F-054" class="F" transform="translate(989 210)"><use href="#lb"/><text>F-054</text></g>
<g id="l-D-032" class="D" transform="translate(741 225)"><use href="#lb"/><text>D-032</text></g>
<g id="l-B-003" class="B" transform="translate(723 227)"><use href="#lb"/><text>B-003</text></g>
<g id="l-B-025" class="B" transform="translate(785 220)"><use href="#lb"/><text>B-025</text></g>
<g id="l-A-038" class="A" transform="translate(840 223)"><use href="#lb"/><text>A-038</text></g>
<g id="l-B-026" class="B" transform="translate(787 241)"><use href="#lb"/><text>B-026</text></g>
<g id="l-D-019" class="D" transform="translate(681 243)"><use href="#lb"/><text>D-019</text></g>
<g id="l-C-010" class="C" transform="translate(723 251)"><use href="#lb"/><text>C-010</text></g>
<g id="l-A-027" class="A" transform="translate(950 244)"><use href="#lb"/><text>A-027</text></g>
<g id="l-C-025" class="C" transform="translate(896 260)"><use href="#lb"/><text>C-025</text></g>
<g id="l-B-007" class="B" transform="translate(753 272)"><use href="#lb"/><text>B-007</text></g>
<g id="l-F-053" class="F" transform="translate(727 269)"><use href="#lb"/><text>F-053</text></g>
<g id="l-B-039" class="B" transform="translate(802 266)"><use href="#lb"/><text>B-039</text></g>
<g id="l-A-026" class="A" transform="translate(652 279)"><use href="#lb"/><text>A-026</text></g>
<g id="l-A-042" class="A" transform="translate(683 281)"><use href="#lb"/><text>A-042</text></g>
<g id="l-F-050" class="F" transform="translate(694 295)"><use href="#lb"/><text>F-050</text></g>
<g id="l-E-002" class="E" transform="translate(770 290)"><use href="#lb"/><text>E-002</text></g>
<g id="l-A-039" class="A" transform="translate(865 288)"><use href="#lb"/><text>A-039</text></g>
<g id="l-B-008" class="B" transform="translate(785 308)"><use href="#lb"/><text>B-008</text></g>
<g id="l-F-010" class="F" transform="translate(939 311)"><use href="#lb"/><text>F-010</text></g>
<g id="l-A-021" class="A" transform="translate(684 324)"><use href="#lb"/><text>A-021</text></g>
<g id="l-D-006" class="D" transform="translate(735 326)"><use href="#lb"/><text>D-006</text></g>
<g id="l-A-014" class="A" transform="translate(820 320)"><use href="#lb"/><text>A-014</text></g>
<g id="l-A-002" class="A" transform="translate(852 336)"><use href="#lb"/><text>A-002</text></g>
<g id="l-B-034" class="B" transform="translate(1014 341)"><use href="#lb"/><text>B-034</text></g>
<g id="l-A-001" class="A" transform="translate(767 344)"><use href="#lb"/><text>A-001</text></g>
<g id="l-C-008" class="C" transform="translate(814 357)"><use href="#lb"/><text>C-008</text></g>
<g id="l-C-018" class="C" transform="translate(891 362)"><use href="#lb"/><text>C-018</text></g>
<g id="l-F-055" class="F" transform="translate(666 362)"><use href="#lb"/><text>F-055</text></g>
<g id="l-C-021" class="C" transform="translate(731 372)"><use href="#lb"/><text>C-021</text></g>
<g id="l-A-043" class="A" transform="translate(719 359)"><use href="#lb"/><text>A-043</text></g>
<g id="l-F-043" class="F" transform="translate(776 380)"><use href="#lb"/><text>F-043</text></g>
<g id="l-A-017" class="A" transform="translate(856 384)"><use href="#lb"/><text>A-017</text></g>
<g id="l-C-005" class="C" transform="translate(647 385)"><use href="#lb"/><text>C-005</text></g>
<g id="l-D-026" class="D" transform="translate(696 382)"><use href="#lb"/><text>D-026</text></g>
<g id="l-D-014" class="D" transform="translate(813 397)"><use href="#lb"/><text>D-014</text></g>
<g id="l-D-027" class="D" transform="translate(889 398)"><use href="#lb"/><text>D-027</text></g>
<g id="l-C-007" class="C" transform="translate(984 396)"><use href="#lb"/><text>C-007</text></g>
<g id="l-B-030" class="B" transform="translate(724 399)"><use href="#lb"/><text>B-030</text></g>
<g id="l-D-012" class="D" transform="translate(329 412)"><use href="#lb"/><text>D-012</text></g>
<g id="l-D-010" class="D" transform="translate(494 412)"><use href="#lb"/><text>D-010</text></g>
<g id="l-F-006" class="F" transform="translate(536 414)"><use href="#lb"/><text>F-006</text></g>
<g id="l-F-056" class="F" transform="translate(585 413)"><use href="#lb"/><text>F-056</text></g>
<g id="l-B-017" class="B" transform="translate(640 413)"><use href="#lb"/><text>B-017</text></g>
<g id="l-D-017" class="D" transform="translate(427 430)"><use href="#lb"/><text>D-017</text></g>
<g id="l-B-002" class="B" transform="translate(483 438)"><use href="#lb"/><text>B-002</text></g>
<g id="l-A-034" class="A" transform="translate(542 434)"><use href="#lb"/><text>A-034</text></g>
<g id="l-B-020" class="B" transform="translate(340 443)"><use href="#lb"/><text>B-020</text></g>
<g id="l-D-016" class="D" transform="translate(629 443)"><use href="#lb"/><text>D-016</text></g>
<g id="l-F-003" class="E" transform="translate(508 465)"><use href="#lb"/><text>F-003</text></g>
<g id="l-D-013" class="D" transform="translate(553 463)"><use href="#lb"/><text>D-013</text></g>
<g id="l-F-045" class="F" transform="translate(613 470)"><use href="#lb"/><text>F-045</text></g>
<g id="l-C-003" class="C" transform="translate(308 478)"><use href="#lb"/><text>C-003</text></g>
<g id="l-C-001" class="C" transform="translate(402 472)"><use href="#lb"/><text>C-001</text></g>
<g id="l-C-017" class="C" transform="translate(460 483)"><use href="#lb"/><text>C-017</text></g>
<g id="l-D-030" class="D" transform="translate(564 490)"><use href="#lb"/><text>D-030</text></g>
<g id="l-D-011" class="D" transform="translate(589 513)"><use href="#lb"/><text>D-011</text></g>
<g id="l-A-022" class="A" transform="translate(437 520)"><use href="#lb"/><text>A-022</text></g>
<g id="l-C-002" class="C" transform="translate(506 518)"><use href="#lb"/><text>C-002</text></g>
<g id="l-C-022" class="C" transform="translate(544 530)"><use href="#lb"/><text>C-022</text></g>
<g id="l-A-044" class="A" transform="translate(376 530)"><use href="#lb"/><text>A-044</text></g>
<g id="l-D-034" class="D" transform="translate(618 536)"><use href="#lb"/><text>D-034</text></g>
<g id="l-F-007" class="F" transform="translate(258 542)"><use href="#lb"/><text>F-007</text></g>
<g id="l-A-023" class="A" transform="translate(457 550)"><use href="#lb"/><text>A-023</text></g>
<g id="l-C-024" class="C" transform="translate(320 557)"><use href="#lb"/><text>C-024</text></g>
<g id="l-A-045" class="A" transform="translate(403 563)"><use href="#lb"/><text>A-045</text></g>
<g id="l-B-009" class="B" transform="translate(529 558)"><use href="#lb"/><text>B-009</text></g>
<g id="l-D-004" class="D" transform="translate(571 557)"><use href="#lb"/><text>D-004</text></g>
<g id="l-D-003" class="D" transform="translate(637 554)"><use href="#lb"/><text>D-003</text></g>
<g id="l-C-019" class="C" transform="translate(597 587)"><use href="#lb"/><text>C-019</text></g>
<g id="l-F-040" class="F" transform="translate(466 592)"><use href="#lb"/><text>F-040</text></g>
<g id="l-F-041" class="F" transform="translate(368 602)"><use href="#lb"/><text>F-041</text></g>
<g id="l-C-004" class="C" transform="translate(428 625)"><use href="#lb"/><text>C-004</text></g>
<g id="l-B-022" class="B" transform="translate(529 641)"><use href="#lb"/><text>B-022</text></g>
<g id="l-A-028" class="A" transform="translate(598 642)"><use href="#lb"/><text>A-028</text></g>
<g id="l-D-029" class="D" transform="translate(650 684)"><use href="#lb"/><text>D-029</text></g>
<g id="l-C-020" class="C" transform="translate(688 404)"><use href="#lb"/><text>C-020</text></g>
<g id="l-F-042" class="F" transform="translate(679 424)"><use href="#lb"/><text>F-042</text></g>
<g id="l-A-019" class="A" transform="translate(723 423)"><use href="#lb"/><text>A-019</text></g>
<g id="l-C-009" class="C" transform="translate(758 421)"><use href="#lb"/><text>C-009</text></g>
<g id="l-C-015" class="C" transform="translate(942 426)"><use href="#lb"/><text>C-015</text></g>
<g id="l-B-036" class="B" transform="translate(665 444)"><use href="#lb"/><text>B-036</text></g>
<g id="l-A-046" class="A" transform="translate(733 449)"><use href="#lb"/><text>A-046</text></g>
<g id="l-D-008" class="D" transform="translate(820 439)"><use href="#lb"/><text>D-008</text></g>
<g id="l-D-009" class="D" transform="translate(786 453)"><use href="#lb"/><text>D-009</text></g>
<g id="l-D-022" class="D" transform="translate(695 459)"><use href="#lb"/><text>D-022</text></g>
<g id="l-D-007" class="D" transform="translate(822 472)"><use href="#lb"/><text>D-007</text></g>
<g id="l-B-018" class="B" transform="translate(901 471)"><use href="#lb"/><text>B-018</text></g>
<g id="l-A-010" class="A" transform="translate(667 481)"><use href="#lb"/><text>A-010</text></g>
<g id="l-A-009" class="A" transform="translate(800 487)"><use href="#lb"/><text>A-009</text></g>
<g id="l-B-035" class="B" transform="translate(991 493)"><use href="#lb"/><text>B-035</text></g>
<g id="l-D-hidden" class="D" transform="translate(663 500)"><use href="#lb"/></g>
<g id="l-C-014" class="C" transform="translate(712 513)"><use href="#lb"/><text>C-014</text></g>
<g id="l-A-hidden" class="A" transform="translate(700 505)"><use href="#lb"/></g>
<g id="l-B-016" class="B" transform="translate(682 501)"><use href="#lb"/><text>B-016</text></g>
<g id="l-A-033" class="A" transform="translate(653 516)"><use href="#lb"/><text>A-033</text></g>
<g id="l-B-001" class="A" transform="translate(775 516)"><use href="#lb"/><text>B-001</text></g>
<g id="l-B-032" class="B" transform="translate(893 512)"><use href="#lb"/><text>B-032</text></g>
<g id="l-A-031" class="A" transform="translate(706 529)"><use href="#lb"/><text>A-031</text></g>
<g id="l-A-008" class="A" transform="translate(742 540)"><use href="#lb"/><text>A-008</text></g>
<g id="l-B-033" class="B" transform="translate(959 560)"><use href="#lb"/><text>B-033</text></g>
<g id="l-F-004" class="E" transform="translate(831 570)"><use href="#lb"/><text>F-004</text></g>
<g id="l-A-003" class="A" transform="translate(670 583)"><use href="#lb"/><text>A-003</text></g>
<g id="l-D-025" class="D" transform="translate(730 578)"><use href="#lb"/><text>D-025</text></g>
<g id="l-F-037" class="F" transform="translate(899 585)"><use href="#lb"/><text>F-037</text></g>
<g id="l-A-035" class="A" transform="translate(814 603)"><use href="#lb"/><text>A-035</text></g>
<g id="l-D-005" class="D" transform="translate(769 609)"><use href="#lb"/><text>D-005</text></g>
<g id="l-E-001" class="D" transform="translate(704 642)"><use href="#lb"/><text>E-001</text></g>
<g id="l-F-051" class="F" transform="translate(758 649)"><use href="#lb"/><text>F-051</text></g>
</g>

<g id="nodes-right">
<g id="r-D-034" class="D" transform="translate(1708 139)"><use href="#rb"/><text>D-034</text></g>
<g id="r-D-031" class="D" transform="translate(1669 169)"><use href="#rb"/><text>D-031</text></g>
<g id="r-D-030" class="D" transform="translate(1750 169)"><use href="#rb"/><text>D-030</text></g>
<g id="r-C-024" class="C" transform="translate(1637 192)"><use href="#rb"/><text>C-024</text></g>
<g id="r-C-025" class="C" transform="translate(1704 211)"><use href="#rb"/><text>C-025</text></g>
<g id="r-C-021" class="C" transform="translate(1756 232)"><use href="#rb"/><text>C-021</text></g>
<g id="r-E-013" class="E" transform="translate(1561 208)"><use href="#rb"/><text>E-013</text></g>
<g id="r-E-014" class="E" transform="translate(1593 237)"><use href="#rb"/><text>E-014</text></g>
<g id="r-F-004" class="F" transform="translate(1647 231)"><use href="#rb"/><text>F-004</text></g>
<g id="r-F-006" class="F" transform="translate(1694 246)"><use href="#rb"/><text>F-006</text></g>
<g id="r-F-005" class="F" transform="translate(1542 258)"><use href="#rb"/><text>F-005</text></g>
<g id="r-F-007" class="F" transform="translate(1590 269)"><use href="#rb"/><text>F-007</text></g>
<g id="r-F-003" class="F" transform="translate(1658 272)"><use href="#rb"/><text>F-003</text></g>
<g id="r-D-028" class="D" transform="translate(1503 270)"><use href="#rb"/><text>D-028</text></g>
<g id="r-E-009" class="E" transform="translate(1738 267)"><use href="#rb"/><text>E-009</text></g>
<g id="r-D-013" class="D" transform="translate(1687 294)"><use href="#rb"/><text>D-013</text></g>
<g id="r-B-016" class="B" transform="translate(1446 296)"><use href="#rb"/><text>B-016</text></g>
<g id="r-A-013" class="A" transform="translate(1382 304)"><use href="#rb"/><text>A-013</text></g>
<g id="r-F-028" class="F" transform="translate(1543 303)"><use href="#rb"/><text>F-028</text></g>
<g id="r-F-011" class="F" transform="translate(1616 300)"><use href="#rb"/><text>F-011</text></g>
<g id="r-D-027" class="D" transform="translate(1484 311)"><use href="#rb"/><text>D-027</text></g>
<g id="r-A-011" class="A" transform="translate(1318 315)"><use href="#rb"/><text>A-011</text></g>
<g id="r-B-015" class="B" transform="translate(1418 324)"><use href="#rb"/><text>B-015</text></g>
<g id="r-F-008" class="F" transform="translate(1635 324)"><use href="#rb"/><text>F-008</text></g>
<g id="r-F-022" class="F" transform="translate(1679 320)"><use href="#rb"/><text>F-022</text></g>
<g id="r-F-055" class="F" transform="translate(1750 318)"><use href="#rb"/><text>F-055</text></g>
<g id="r-F-029" class="F" transform="translate(1587 339)"><use href="#rb"/><text>F-029</text></g>
<g id="r-A-012" class="A" transform="translate(1300 351)"><use href="#rb"/><text>A-012</text></g>
<g id="r-A-010" class="A" transform="translate(1369 351)"><use href="#rb"/><text>A-010</text></g>
<g id="r-D-026" class="D" transform="translate(1435 350)"><use href="#rb"/><text>D-026</text></g>
<g id="r-F-010" class="F" transform="translate(1514 349)"><use href="#rb"/><text>F-010</text></g>
<g id="r-D-002" class="D" transform="translate(1564 358)"><use href="#rb"/><text>D-002</text></g>
<g id="r-F-023" class="F" transform="translate(1682 352)"><use href="#rb"/><text>F-023</text></g>
<g id="r-D-012" class="D" transform="translate(1747 349)"><use href="#rb"/><text>D-012</text></g>
<g id="r-F-012" class="F" transform="translate(1638 373)"><use href="#rb"/><text>F-012</text></g>
<g id="r-F-032" class="F" transform="translate(1714 377)"><use href="#rb"/><text>F-032</text></g>
<g id="r-F-054" class="F" transform="translate(1757 376)"><use href="#rb"/><text>F-054</text></g>
<g id="r-B-014" class="B" transform="translate(1495 377)"><use href="#rb"/><text>B-014</text></g>
<g id="r-F-041" class="F" transform="translate(1299 384)"><use href="#rb"/><text>F-041</text></g>
<g id="r-A-016" class="A" transform="translate(1353 397)"><use href="#rb"/><text>A-016</text></g>
<g id="r-B-011" class="B" transform="translate(1439 400)"><use href="#rb"/><text>B-011</text></g>
<g id="r-F-035" class="F" transform="translate(1528 393)"><use href="#rb"/><text>F-035</text></g>
<g id="r-F-036" class="F" transform="translate(1585 386)"><use href="#rb"/><text>F-036</text></g>
<g id="r-D-005" class="D" transform="translate(1652 410)"><use href="#rb"/><text>D-005</text></g>
<g id="r-D-025" class="D" transform="translate(1717 410)"><use href="#rb"/><text>D-025</text></g>
<g id="r-B-037" class="B" transform="translate(1826 106)"><use href="#rb"/><text>B-037</text></g>
<g id="r-B-038" class="B" transform="translate(1893 103)"><use href="#rb"/><text>B-038</text></g>
<g id="r-D-033" class="D" transform="translate(1786 116)"><use href="#rb"/><text>D-033</text></g>
<g id="r-B-036" class="B" transform="translate(1869 129)"><use href="#rb"/><text>B-036</text></g>
<g id="r-A-020" class="A" transform="translate(1934 124)"><use href="#rb"/><text>A-020</text></g>
<g id="r-A-030" class="A" transform="translate(2019 136)"><use href="#rb"/><text>A-030</text></g>
<g id="r-D-032" class="D" transform="translate(1787 147)"><use href="#rb"/><text>D-032</text></g>
<g id="r-E-012" class="E" transform="translate(1893 153)"><use href="#rb"/><text>E-012</text></g>
<g id="r-E-011" class="E" transform="translate(1840 161)"><use href="#rb"/><text>E-011</text></g>
<g id="r-D-017" class="D" transform="translate(1923 179)"><use href="#rb"/><text>D-017</text></g>
<g id="r-A-031" class="A" transform="translate(1972 177)"><use href="#rb"/><text>A-031</text></g>
<g id="r-A-032" class="A" transform="translate(2014 179)"><use href="#rb"/><text>A-032</text></g>
<g id="r-A-033" class="A" transform="translate(2102 185)"><use href="#rb"/><text>A-033</text></g>
<g id="r-D-029" class="D" transform="translate(1824 197)"><use href="#rb"/><text>D-029</text></g>
<g id="r-D-010" class="D" transform="translate(1866 196)"><use href="#rb"/><text>D-010</text></g>
<g id="r-E-010" class="E" transform="translate(1789 205)"><use href="#rb"/><text>E-010</text></g>
<g id="r-A-008" class="A" transform="translate(1971 212)"><use href="#rb"/><text>A-008</text></g>
<g id="r-A-007" class="A" transform="translate(2052 212)"><use href="#rb"/><text>A-007</text></g>
<g id="r-D-018" class="D" transform="translate(1891 218)"><use href="#rb"/><text>D-018</text></g>
<g id="r-F-017" class="F" transform="translate(1927 219)"><use href="#rb"/><text>F-017</text></g>
<g id="r-C-022" class="C" transform="translate(1831 232)"><use href="#rb"/><text>C-022</text></g>
<g id="r-A-037" class="A" transform="translate(2087 232)"><use href="#rb"/><text>A-037</text></g>
<g id="r-F-018" class="F" transform="translate(1868 245)"><use href="#rb"/><text>F-018</text></g>
<g id="r-A-006" class="A" transform="translate(1991 246)"><use href="#rb"/><text>A-006</text></g>
<g id="r-F-013" class="F" transform="translate(1944 255)"><use href="#rb"/><text>F-013</text></g>
<g id="r-D-023" class="D" transform="translate(1795 258)"><use href="#rb"/><text>D-023</text></g>
<g id="r-A-035" class="A" transform="translate(2063 261)"><use href="#rb"/><text>A-035</text></g>
<g id="r-A-036" class="A" transform="translate(2148 262)"><use href="#rb"/><text>A-036</text></g>
<g id="r-D-016" class="D" transform="translate(1852 269)"><use href="#rb"/><text>D-016</text></g>
<g id="r-F-014" class="F" transform="translate(1905 270)"><use href="#rb"/><text>F-014</text></g>
<g id="r-B-021" class="B" transform="translate(2011 276)"><use href="#rb"/><text>B-021</text></g>
<g id="r-C-023" class="C" transform="translate(1809 291)"><use href="#rb"/><text>C-023</text></g>
<g id="r-F-002" class="F" transform="translate(1942 292)"><use href="#rb"/><text>F-002</text></g>
<g id="r-A-034" class="A" transform="translate(2087 293)"><use href="#rb"/><text>A-034</text></g>
<g id="r-A-039" class="A" transform="translate(2141 285)"><use href="#rb"/><text>A-039</text></g>
<g id="r-A-038" class="A" transform="translate(2206 292)"><use href="#rb"/><text>A-038</text></g>
<g id="r-F-015" class="F" transform="translate(1872 298)"><use href="#rb"/><text>F-015</text></g>
<g id="r-F-009" class="F" transform="translate(1774 304)"><use href="#rb"/><text>F-009</text></g>
<g id="r-F-037" class="F" transform="translate(2002 303)"><use href="#rb"/><text>F-037</text></g>
<g id="r-A-002" class="A" transform="translate(2052 308)"><use href="#rb"/><text>A-002</text></g>
<g id="r-F-051" class="F" transform="translate(1951 315)"><use href="#rb"/><text>F-051</text></g>
<g id="r-A-027" class="A" transform="translate(2139 313)"><use href="#rb"/><text>A-027</text></g>
<g id="r-D-024" class="D" transform="translate(1795 325)"><use href="#rb"/><text>D-024</text></g>
<g id="r-F-049" class="F" transform="translate(1873 321)"><use href="#rb"/><text>F-049</text></g>
<g id="r-D-001" class="D" transform="translate(1847 340)"><use href="#rb"/><text>D-001</text></g>
<g id="r-F-038" class="F" transform="translate(1904 347)"><use href="#rb"/><text>F-038</text></g>
<g id="r-F-039" class="F" transform="translate(1960 344)"><use href="#rb"/><text>F-039</text></g>
<g id="r-F-050" class="F" transform="translate(2020 347)"><use href="#rb"/><text>F-050</text></g>
<g id="r-A-001" class="A" transform="translate(2069 351)"><use href="#rb"/><text>A-001</text></g>
<g id="r-A-026" class="A" transform="translate(2127 355)"><use href="#rb"/><text>A-026</text></g>
<g id="r-E-016" class="E" transform="translate(2185 362)"><use href="#rb"/><text>E-016</text></g>
<g id="r-D-011" class="D" transform="translate(1816 361)"><use href="#rb"/><text>D-011</text></g>
<g id="r-F-001" class="F" transform="translate(1864 364)"><use href="#rb"/><text>F-001</text></g>
<g id="r-B-007" class="B" transform="translate(1985 370)"><use href="#rb"/><text>B-007</text></g>
<g id="r-F-040" class="F" transform="translate(1926 378)"><use href="#rb"/><text>F-040</text></g>
<g id="r-B-006" class="B" transform="translate(2048 392)"><use href="#rb"/><text>B-006</text></g>
<g id="r-F-056" class="F" transform="translate(2107 393)"><use href="#rb"/><text>F-056</text></g>
<g id="r-E-015" class="E" transform="translate(2148 394)"><use href="#rb"/><text>E-015</text></g>
<g id="r-F-025" class="F" transform="translate(1832 394)"><use href="#rb"/><text>F-025</text></g>
<g id="r-D-009" class="D" transform="translate(1928 403)"><use href="#rb"/><text>D-009</text></g>
<g id="r-B-005" class="B" transform="translate(1967 404)"><use href="#rb"/><text>B-005</text></g>
<g id="r-F-019" class="F" transform="translate(1774 408)"><use href="#rb"/><text>F-019</text></g>
<g id="r-F-053" class="F" transform="translate(1885 406)"><use href="#rb"/><text>F-053</text></g>
<g id="r-A-045" class="A" transform="translate(2010 413)"><use href="#rb"/><text>A-045</text></g>
<g id="r-B-020" class="B" transform="translate(2088 423)"><use href="#rb"/><text>B-020</text></g>
<g id="r-B-009" class="B" transform="translate(2169 424)"><use href="#rb"/><text>B-009</text></g>
<g id="r-F-031" class="F" transform="translate(1815 435)"><use href="#rb"/><text>F-031</text></g>
<g id="r-F-048" class="F" transform="translate(1912 439)"><use href="#rb"/><text>F-048</text></g>
<g id="r-B-001" class="B" transform="translate(2038 435)"><use href="#rb"/><text>B-001</text></g>
<g id="r-B-008" class="B" transform="translate(2124 438)"><use href="#rb"/><text>B-008</text></g>
<g id="r-D-015" class="D" transform="translate(1784 451)"><use href="#rb"/><text>D-015</text></g>
<g id="r-F-030" class="F" transform="translate(1861 451)"><use href="#rb"/><text>F-030</text></g>
<g id="r-D-019" class="D" transform="translate(1972 448)"><use href="#rb"/><text>D-019</text></g>
<g id="r-B-002" class="B" transform="translate(1906 464)"><use href="#rb"/><text>B-002</text></g>
<g id="r-B-019" class="B" transform="translate(2039 468)"><use href="#rb"/><text>B-019</text></g>
<g id="r-A-044" class="A" transform="translate(2095 471)"><use href="#rb"/><text>A-044</text></g>
<g id="r-B-010" class="B" transform="translate(2158 468)"><use href="#rb"/><text>B-010</text></g>
<g id="r-F-024" class="F" transform="translate(1780 477)"><use href="#rb"/><text>F-024</text></g>
<g id="r-F-027" class="F" transform="translate(1832 480)"><use href="#rb"/><text>F-027</text></g>
<g id="r-F-043" class="F" transform="translate(1945 478)"><use href="#rb"/><text>F-043</text></g>
<g id="r-D-020" class="D" transform="translate(1980 488)"><use href="#rb"/><text>D-020</text></g>
<g id="r-D-014" class="D" transform="translate(1753 493)"><use href="#rb"/><text>D-014</text></g>
<g id="r-A-019" class="A" transform="translate(1900 495)"><use href="#rb"/><text>A-019</text></g>
<g id="r-F-052" class="F" transform="translate(2066 498)"><use href="#rb"/><text>F-052</text></g>
<g id="r-F-016" class="F" transform="translate(2131 503)"><use href="#rb"/><text>F-016</text></g>
<g id="r-C-007" class="C" transform="translate(1791 512)"><use href="#rb"/><text>C-007</text></g>
<g id="r-B-017" class="B" transform="translate(1851 505)"><use href="#rb"/><text>B-017</text></g>
<g id="r-D-022" class="D" transform="translate(1945 519)"><use href="#rb"/><text>D-022</text></g>
<g id="r-B-018" class="B" transform="translate(2016 522)"><use href="#rb"/><text>B-018</text></g>
<g id="r-E-005" class="E" transform="translate(2060 523)"><use href="#rb"/><text>E-005</text></g>
<g id="r-B-003" class="B" transform="translate(1753 531)"><use href="#rb"/><text>B-003</text></g>
<g id="r-B-030" class="B" transform="translate(1776 543)"><use href="#rb"/><text>B-030</text></g>
<g id="r-D-004" class="D" transform="translate(1819 538)"><use href="#rb"/><text>D-004</text></g>
<g id="r-F-021" class="F" transform="translate(1885 539)"><use href="#rb"/><text>F-021</text></g>
<g id="r-E-006" class="E" transform="translate(1918 542)"><use href="#rb"/><text>E-006</text></g>
<g id="r-A-018" class="A" transform="translate(1987 554)"><use href="#rb"/><text>A-018</text></g>
<g id="r-E-008" class="E" transform="translate(2013 554)"><use href="#rb"/><text>E-008</text></g>
<g id="r-E-007" class="E" transform="translate(2089 563)"><use href="#rb"/><text>E-007</text></g>
<g id="r-B-004" class="B" transform="translate(1747 573)"><use href="#rb"/><text>B-004</text></g>
<g id="r-B-026" class="B" transform="translate(1844 569)"><use href="#rb"/><text>B-026</text></g>
<g id="r-B-025" class="B" transform="translate(1885 564)"><use href="#rb"/><text>B-025</text></g>
<g id="r-B-023" class="B" transform="translate(1938 566)"><use href="#rb"/><text>B-023</text></g>
<g id="r-C-005" class="C" transform="translate(1805 587)"><use href="#rb"/><text>C-005</text></g>
<g id="r-E-001" class="E" transform="translate(1940 591)"><use href="#rb"/><text>E-001</text></g>
<g id="r-F-045" class="F" transform="translate(2002 600)"><use href="#rb"/><text>F-045</text></g>
<g id="r-F-020" class="F" transform="translate(1888 596)"><use href="#rb"/><text>F-020</text></g>
<g id="r-B-028" class="B" transform="translate(1790 611)"><use href="#rb"/><text>B-028</text></g>
<g id="r-B-027" class="B" transform="translate(1840 617)"><use href="#rb"/><text>B-027</text></g>
<g id="r-B-022" class="B" transform="translate(1945 613)"><use href="#rb"/><text>B-022</text></g>
<g id="r-E-004" class="E" transform="translate(1895 617)"><use href="#rb"/><text>E-004</text></g>
<g id="r-C-014" class="C" transform="translate(1752 636)"><use href="#rb"/><text>C-014</text></g>
<g id="r-E-003" class="E" transform="translate(1957 644)"><use href="#rb"/><text>E-003</text></g>
<g id="r-E-002" class="E" transform="translate(2014 637)"><use href="#rb"/><text>E-002</text></g>
<g id="r-B-024" class="B" transform="translate(1896 651)"><use href="#rb"/><text>B-024</text></g>
<g id="r-F-042" class="F" transform="translate(1291 413)"><use href="#rb"/><text>F-042</text></g>
<g id="r-A-009" class="A" transform="translate(1389 415)"><use href="#rb"/><text>A-009</text></g>
<g id="r-D-003" class="D" transform="translate(1499 424)"><use href="#rb"/><text>D-003</text></g>
<g id="r-F-034" class="F" transform="translate(1565 423)"><use href="#rb"/><text>F-034</text></g>
<g id="r-C-012" class="C" transform="translate(1470 434)"><use href="#rb"/><text>C-012</text></g>
<g id="r-B-012" class="B" transform="translate(1425 436)"><use href="#rb"/><text>B-012</text></g>
<g id="r-D-006" class="D" transform="translate(1630 438)"><use href="#rb"/><text>D-006</text></g>
<g id="r-F-026" class="F" transform="translate(1722 443)"><use href="#rb"/><text>F-026</text></g>
<g id="r-A-014" class="A" transform="translate(1322 448)"><use href="#rb"/><text>A-014</text></g>
<g id="r-F-033" class="F" transform="translate(1533 447)"><use href="#rb"/><text>F-033</text></g>
<g id="r-A-046" class="A" transform="translate(1675 450)"><use href="#rb"/><text>A-046</text></g>
<g id="r-B-013" class="B" transform="translate(1378 457)"><use href="#rb"/><text>B-013</text></g>
<g id="r-F-044" class="F" transform="translate(1583 456)"><use href="#rb"/><text>F-044</text></g>
<g id="r-D-007" class="D" transform="translate(1680 474)"><use href="#rb"/><text>D-007</text></g>
<g id="r-F-047" class="F" transform="translate(1603 477)"><use href="#rb"/><text>F-047</text></g>
<g id="r-C-010" class="C" transform="translate(1497 476)"><use href="#rb"/><text>C-010</text></g>
<g id="r-A-004" class="A" transform="translate(1421 479)"><use href="#rb"/><text>A-004</text></g>
<g id="r-F-046" class="F" transform="translate(1553 484)"><use href="#rb"/><text>F-046</text></g>
<g id="r-A-015" class="A" transform="translate(1319 497)"><use href="#rb"/><text>A-015</text></g>
<g id="r-A-017" class="A" transform="translate(1363 498)"><use href="#rb"/><text>A-017</text></g>
<g id="r-D-021" class="D" transform="translate(1707 501)"><use href="#rb"/><text>D-021</text></g>
<g id="r-A-003" class="A" transform="translate(1470 504)"><use href="#rb"/><text>A-003</text></g>
<g id="r-B-033" class="B" transform="translate(1610 503)"><use href="#rb"/><text>B-033</text></g>
<g id="r-C-011" class="C" transform="translate(1523 511)"><use href="#rb"/><text>C-011</text></g>
<g id="r-D-008" class="D" transform="translate(1665 513)"><use href="#rb"/><text>D-008</text></g>
<g id="r-A-025" class="A" transform="translate(1420 516)"><use href="#rb"/><text>A-025</text></g>
<g id="r-C-018" class="C" transform="translate(1487 531)"><use href="#rb"/><text>C-018</text></g>
<g id="r-B-032" class="B" transform="translate(1543 542)"><use href="#rb"/><text>B-032</text></g>
<g id="r-A-005" class="A" transform="translate(1666 542)"><use href="#rb"/><text>A-005</text></g>
<g id="r-C-001" class="C" transform="translate(1599 547)"><use href="#rb"/><text>C-001</text></g>
<g id="r-C-003" class="C" transform="translate(1719 544)"><use href="#rb"/><text>C-003</text></g>
<g id="r-C-017" class="C" transform="translate(1431 560)"><use href="#rb"/><text>C-017</text></g>
<g id="r-C-019" class="C" transform="translate(1373 568)"><use href="#rb"/><text>C-019</text></g>
<g id="r-C-016" class="C" transform="translate(1486 571)"><use href="#rb"/><text>C-016</text></g>
<g id="r-C-020" class="C" transform="translate(1540 571)"><use href="#rb"/><text>C-020</text></g>
<g id="r-C-015" class="C" transform="translate(1650 574)"><use href="#rb"/><text>C-015</text></g>
<g id="r-C-002" class="C" transform="translate(1598 587)"><use href="#rb"/><text>C-002</text></g>
<g id="r-C-006" class="C" transform="translate(1689 590)"><use href="#rb"/><text>C-006</text></g>
<g id="r-A-022" class="A" transform="translate(1413 604)"><use href="#rb"/><text>A-022</text></g>
<g id="r-B-031" class="B" transform="translate(1535 605)"><use href="#rb"/><text>B-031</text></g>
<g id="r-C-004" class="C" transform="translate(1642 609)"><use href="#rb"/><text>C-004</text></g>
<g id="r-B-029" class="B" transform="translate(1722 609)"><use href="#rb"/><text>B-029</text></g>
<g id="r-A-021" class="A" transform="translate(1466 616)"><use href="#rb"/><text>A-021</text></g>
<g id="r-A-023" class="A" transform="translate(1411 629)"><use href="#rb"/><text>A-023</text></g>
<g id="r-A-028" class="A" transform="translate(1357 636)"><use href="#rb"/><text>A-028</text></g>
<g id="r-C-013" class="C" transform="translate(1676 640)"><use href="#rb"/><text>C-013</text></g>
<g id="r-C-009" class="C" transform="translate(1604 644)"><use href="#rb"/><text>C-009</text></g>
<g id="r-B-035" class="B" transform="translate(1549 645)"><use href="#rb"/><text>B-035</text></g>
<g id="r-A-029" class="A" transform="translate(1406 654)"><use href="#rb"/><text>A-029</text></g>
<g id="r-A-024" class="A" transform="translate(1505 655)"><use href="#rb"/><text>A-024</text></g>
<g id="r-A-040" class="A" transform="translate(1450 660)"><use href="#rb"/><text>A-040</text></g>
<g id="r-C-008" class="C" transform="translate(1598 672)"><use href="#rb"/><text>C-008</text></g>
<g id="r-A-042" class="A" transform="translate(1394 684)"><use href="#rb"/><text>A-042</text></g>
<g id="r-A-041" class="A" transform="translate(1439 683)"><use href="#rb"/><text>A-041</text></g>
<g id="r-A-043" class="A" transform="translate(1507 683)"><use href="#rb"/><text>A-043</text></g>
<g id="r-B-034" class="B" transform="translate(1558 684)"><use href="#rb"/><text>B-034</text></g>
</g>

<g id="arrow-between">
<polygon points="1111,426 1160,426 1160,415 1186,441 1160,467 1160,456 1111,456" fill="#d6d6d6"/>
</g>

<g id="label-left">
<rect x="326" y="708" width="611" height="66" fill="#000"/>
<text class="ban" x="631.5" y="741">理解が困難な相関関係</text>
</g>
<g id="label-right">
<rect x="1444" y="708" width="613" height="66" fill="#009cff"/>
<text class="ban" x="1750.5" y="741">理解が容易な因果関係</text>
</g>
</svg>
